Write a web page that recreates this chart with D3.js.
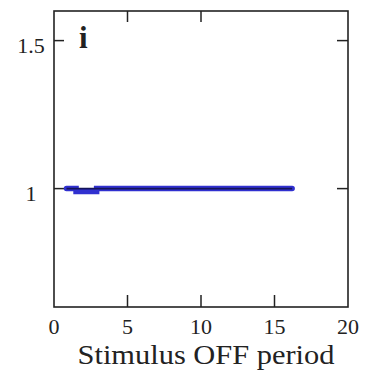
<!DOCTYPE html>
<html>
<head>
<meta charset="utf-8">
<script src="https://cdn.jsdelivr.net/npm/d3@7"></script>
<style>
  html, body { margin: 0; padding: 0; background: #fff; }
  svg { display: block; }
  text { font-family: "Times New Roman", "Liberation Serif", Times, serif; fill: #222; }
</style>
</head>
<body>
<svg id="chart" width="380" height="374"></svg>
<script>
// Response ratio against the length of the stimulus OFF period
const offPeriod = [0.85, 1.5, 2.9, 16.2];
const bandValues = [1.0, 0.99, 1.0, 1.0];
const meanValues = [1.0, 1.0, 1.0, 1.0];

const xTicks = [0, 5, 10, 15, 20];
const xTickLabels = ["0", "5", "10", "15", "20"];
const yTicks = [1, 1.5];
const yTickLabels = ["1", "1.5"];

const panelLabel = "i";
const xTitle = "Stimulus OFF period";

const svg = d3.select("#chart");
const m = { left: 54, right: 32, top: 11, bottom: 67 };
const W = 380, H = 374;

const x = d3.scaleLinear().domain([0, 20]).range([m.left, W - m.right]);
const y = d3.scaleLinear().domain([0.6, 1.6]).range([H - m.bottom, m.top]);

// Frame
svg.append("rect")
  .attr("x", x(0)).attr("y", y(1.6))
  .attr("width", x(20) - x(0)).attr("height", y(0.6) - y(1.6))
  .attr("fill", "none").attr("stroke", "#222").attr("stroke-width", 1.6);

// Inward ticks on all four sides
const inner = [5, 10, 15];
svg.selectAll(".tb").data(inner).join("line")
  .attr("x1", d => x(d)).attr("x2", d => x(d))
  .attr("y1", y(0.6)).attr("y2", y(0.6) - 12)
  .attr("stroke", "#222").attr("stroke-width", 1.5);
svg.selectAll(".tt").data(inner.slice(0, 2)).join("line")
  .attr("x1", d => x(d)).attr("x2", d => x(d))
  .attr("y1", y(1.6)).attr("y2", y(1.6) + 11)
  .attr("stroke", "#222").attr("stroke-width", 1.5);
svg.selectAll(".tl").data(yTicks).join("line")
  .attr("x1", x(0)).attr("x2", x(0) + 10)
  .attr("y1", d => y(d)).attr("y2", d => y(d))
  .attr("stroke", "#222").attr("stroke-width", 1.5);
svg.selectAll(".tr").data(yTicks).join("line")
  .attr("x1", x(20)).attr("x2", x(20) - 11)
  .attr("y1", d => y(d)).attr("y2", d => y(d))
  .attr("stroke", "#222").attr("stroke-width", 1.5);

// Tick labels
svg.selectAll(".xl").data(xTicks).join("text")
  .attr("x", d => x(d)).attr("y", 334)
  .attr("text-anchor", "middle").attr("font-size", 22)
  .text((d, i) => xTickLabels[i]);
svg.selectAll(".yl").data(yTicks).join("text")
  .attr("x", 31).attr("y", d => y(d) + 12.5)
  .attr("text-anchor", "middle").attr("font-size", 22)
  .text((d, i) => yTickLabels[i]);

// Axis title and panel letter
svg.append("text")
  .attr("x", 206).attr("y", 364)
  .attr("text-anchor", "middle").attr("font-size", 27)
  .attr("textLength", 257).attr("lengthAdjust", "spacingAndGlyphs")
  .text(xTitle);
svg.append("text")
  .attr("x", 79).attr("y", 48)
  .attr("font-size", 31).attr("font-weight", "bold")
  .text(panelLabel);

// Data: blue band with dark mean line
const band = d3.line()
  .x((d, i) => x(offPeriod[i]))
  .y(d => y(d))
  .curve(d3.curveStepAfter);
svg.append("path")
  .attr("d", band(bandValues))
  .attr("fill", "none").attr("stroke", "#3030d0")
  .attr("stroke-width", 5.5).attr("stroke-linecap", "round");

const mean = d3.line()
  .x((d, i) => x(offPeriod[i]))
  .y(d => y(d));
svg.append("path")
  .attr("d", mean(meanValues))
  .attr("fill", "none").attr("stroke", "#14145a")
  .attr("stroke-width", 1.8);
</script>
</body>
</html>
